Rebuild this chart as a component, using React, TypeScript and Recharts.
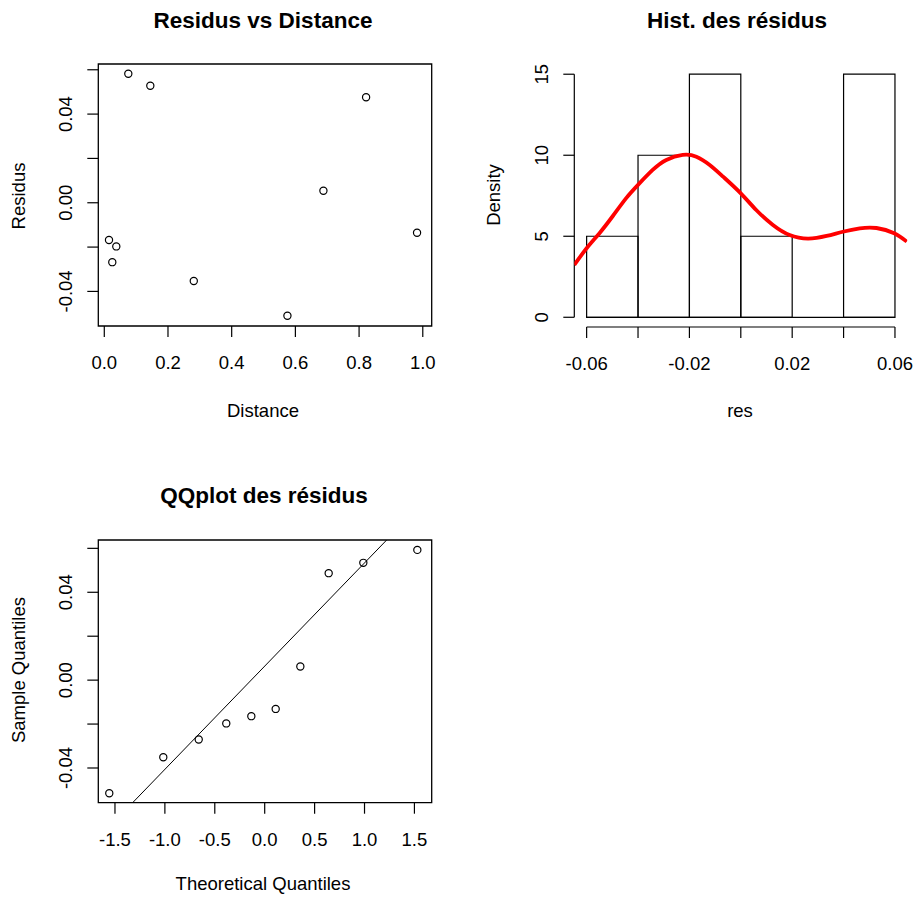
import React from 'react';
import { ScatterChart, Scatter, LineChart, Line, XAxis, YAxis, ReferenceArea, ReferenceLine } from 'recharts';

// residuals vs distance
const distance = [0.0754, 0.1445, 0.822, 0.688, 0.982, 0.0148, 0.0377, 0.0251, 0.281, 0.575];
const residus = [0.0582, 0.0528, 0.0476, 0.0054, -0.0135, -0.0168, -0.0197, -0.0268, -0.0353, -0.051];
const distTicks = [0, 0.2, 0.4, 0.6, 0.8, 1.0];
const distLabels = ['0.0', '0.2', '0.4', '0.6', '0.8', '1.0'];
const resTicks = [-0.04, -0.02, 0, 0.02, 0.04, 0.06];
const resLabels = ['-0.04', '', '0.00', '', '0.04', ''];

// histogram
const histBreaks = [-0.06, -0.04, -0.02, 0, 0.02, 0.04, 0.06];
const histDensity = [5, 10, 15, 5, 0, 15];
const histXLabels = ['-0.06', '', '-0.02', '', '0.02', '', '0.06'];
const densTicks = [0, 5, 10, 15];
const densLabels = ['0', '5', '10', '15'];
const kdeX = [-0.0648, -0.06, -0.055, -0.0498, -0.0446, -0.04, -0.0343, -0.029, -0.0226, -0.0173, -0.0121, -0.0069, 0, 0.006, 0.0125, 0.019, 0.0262, 0.0334, 0.0397, 0.0463, 0.0528, 0.0597, 0.0646];
const kdeY = [3.23, 4.26, 5.19, 6.25, 7.35, 8.17, 9.09, 9.71, 10.02, 9.91, 9.4, 8.68, 7.65, 6.62, 5.7, 5.08, 4.86, 5.02, 5.28, 5.49, 5.51, 5.19, 4.67];

// qqplot
const theoQ = [-1.557, -1.016, -0.661, -0.385, -0.134, 0.11, 0.357, 0.641, 0.988, 1.529];
const sampleQ = [-0.0515, -0.0351, -0.027, -0.0197, -0.0164, -0.0131, 0.0062, 0.0487, 0.0534, 0.0593];
const qqTicks = [-1.5, -1, -0.5, 0, 0.5, 1, 1.5];
const qqLabels = ['-1.5', '-1.0', '-0.5', '0.0', '0.5', '1.0', '1.5'];
const qqLineX = [-1.323, 1.222];
const qqLineY = [-0.0558, 0.0638];

const FONT = '"Liberation Sans", Arial, sans-serif';
const AX = 18.5;
const LINE = { stroke: '#000', strokeWidth: 1.2 };

const makeXTick = (values: number[], labels: string[]) => (props: any) => {
  const i = values.indexOf(props.payload.value);
  const lab = i >= 0 ? labels[i] : '';
  if (!lab) return <g />;
  return (
    <text x={props.x} y={props.y + 32.3} textAnchor="middle" fontSize={AX} fontFamily={FONT} fill="#000">
      {lab}
    </text>
  );
};

const makeYTick = (values: number[], labels: string[]) => (props: any) => {
  const i = values.indexOf(props.payload.value);
  const lab = i >= 0 ? labels[i] : '';
  if (!lab) return <g />;
  const bx = props.x - 15.6;
  return (
    <text x={bx} y={props.y} transform={`rotate(-90 ${bx} ${props.y})`} textAnchor="middle" fontSize={AX} fontFamily={FONT} fill="#000">
      {lab}
    </text>
  );
};

const Dot = (p: any) => <circle cx={p.cx} cy={p.cy} r={3.6} fill="none" stroke="#000" strokeWidth={1.2} />;

const resPts = distance.map((x, i) => ({ x, y: residus[i] }));
const qqPts = theoQ.map((x, i) => ({ x, y: sampleQ[i] }));
const kde = kdeX.map((x, i) => ({ x, d: kdeY[i] }));

const distDom = [-0.0188, 1.028];
const resDom = [-0.0556, 0.0626];
const histXDom = [-0.0648, 0.0648];
const histYDom = [-0.6, 15.6];
const qqXDom = [-1.667, 1.673];
const qqYDom = [-0.0558, 0.0638];

const Titles = () => (
  <svg width={915} height={899} style={{ position: 'absolute', left: 0, top: 0 }}>
    <g fontFamily={FONT} fill="#000" textAnchor="middle">
      <text x={263} y={27.5} fontSize={22.5} fontWeight="bold">Residus vs Distance</text>
      <text x={737} y={27.5} fontSize={22.5} fontWeight="bold">Hist. des résidus</text>
      <text x={264} y={502.5} fontSize={22.5} fontWeight="bold">QQplot des résidus</text>
      <text x={263} y={416.5} fontSize={AX}>Distance</text>
      <text x={740} y={416.5} fontSize={AX}>res</text>
      <text x={263} y={890} fontSize={AX}>Theoretical Quantiles</text>
      <text x={25} y={196} fontSize={AX} transform="rotate(-90 25 196)">Residus</text>
      <text x={500} y={195} fontSize={AX} transform="rotate(-90 500 195)">Density</text>
      <text x={25} y={670} fontSize={AX} transform="rotate(-90 25 670)">Sample Quantiles</text>
    </g>
  </svg>
);

export default function App() {
  return (
    <div style={{ position: 'absolute', left: 0, top: 0, width: 915, height: 899, background: '#fff' }}>
      <Titles />

      <div style={{ position: 'absolute', left: 0, top: 0 }}>
        <ScatterChart width={460} height={430} margin={{ top: 64, right: 28.3, bottom: 44, left: 38.3 }}>
          <XAxis type="number" dataKey="x" domain={distDom} allowDataOverflow ticks={distTicks} interval={0}
            axisLine={false} tickLine={LINE} tickSize={11} tickMargin={0} height={60} tick={makeXTick(distTicks, distLabels)} />
          <YAxis type="number" dataKey="y" domain={resDom} allowDataOverflow ticks={resTicks} interval={0}
            axisLine={false} tickLine={LINE} tickSize={11} tickMargin={0} width={60} tick={makeYTick(resTicks, resLabels)} />
          <ReferenceArea x1={distDom[0]} x2={distDom[1]} y1={resDom[0]} y2={resDom[1]} fill="none" stroke="#000" strokeWidth={1.3} ifOverflow="visible" />
          <Scatter data={resPts} shape={Dot} isAnimationActive={false} />
        </ScatterChart>
      </div>

      <div style={{ position: 'absolute', left: 460, top: 0 }}>
        <LineChart width={455} height={430} data={kde} margin={{ top: 64.5, right: 7.7, bottom: 43, left: 54.3 }}>
          <XAxis type="number" dataKey="x" domain={histXDom} allowDataOverflow ticks={histBreaks} interval={0}
            axisLine={false} tickLine={LINE} tickSize={11} tickMargin={0} height={60} tick={makeXTick(histBreaks, histXLabels)} />
          <YAxis type="number" domain={histYDom} allowDataOverflow ticks={densTicks} interval={0}
            axisLine={false} tickLine={LINE} tickSize={11} tickMargin={0} width={60} tick={makeYTick(densTicks, densLabels)} />
          <ReferenceLine segment={[{ x: histBreaks[0], y: histYDom[0] }, { x: histBreaks[histBreaks.length - 1], y: histYDom[0] }]}
            stroke="#000" strokeWidth={1.2} ifOverflow="visible" />
          <ReferenceLine segment={[{ x: histXDom[0], y: densTicks[0] }, { x: histXDom[0], y: densTicks[densTicks.length - 1] }]}
            stroke="#000" strokeWidth={1.2} ifOverflow="visible" />
          <ReferenceLine segment={[{ x: histBreaks[0], y: 0 }, { x: histBreaks[histBreaks.length - 1], y: 0 }]}
            stroke="#000" strokeWidth={1.2} ifOverflow="visible" />
          {histDensity.map((d, i) => (
            <ReferenceArea key={i} x1={histBreaks[i]} x2={histBreaks[i + 1]} y1={0} y2={d}
              fill="none" stroke="#000" strokeWidth={1.2} ifOverflow="visible" />
          ))}
          <Line type="natural" dataKey="d" stroke="#ff0000" strokeWidth={3.8} dot={false} isAnimationActive={false} />
        </LineChart>
      </div>

      <div style={{ position: 'absolute', left: 0, top: 450 }}>
        <ScatterChart width={460} height={449} margin={{ top: 90, right: 28.3, bottom: 36.3, left: 38.3 }}>
          <XAxis type="number" dataKey="x" domain={qqXDom} allowDataOverflow ticks={qqTicks} interval={0}
            axisLine={false} tickLine={LINE} tickSize={11} tickMargin={0} height={60} tick={makeXTick(qqTicks, qqLabels)} />
          <YAxis type="number" dataKey="y" domain={qqYDom} allowDataOverflow ticks={resTicks} interval={0}
            axisLine={false} tickLine={LINE} tickSize={11} tickMargin={0} width={60} tick={makeYTick(resTicks, resLabels)} />
          <ReferenceArea x1={qqXDom[0]} x2={qqXDom[1]} y1={qqYDom[0]} y2={qqYDom[1]} fill="none" stroke="#000" strokeWidth={1.3} ifOverflow="visible" />
          <ReferenceLine segment={[{ x: qqLineX[0], y: qqLineY[0] }, { x: qqLineX[1], y: qqLineY[1] }]}
            stroke="#000" strokeWidth={1} ifOverflow="visible" />
          <Scatter data={qqPts} shape={Dot} isAnimationActive={false} />
        </ScatterChart>
      </div>
    </div>
  );
}
